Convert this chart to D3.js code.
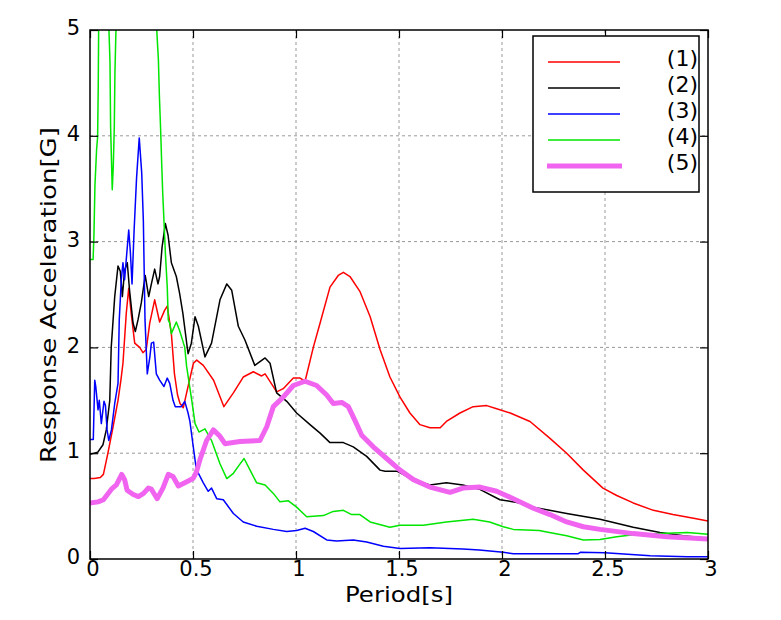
<!DOCTYPE html>
<html lang="en">
<head>
    <meta charset="UTF-8">
    <title>Response Spectra</title>
    <script src="https://cdnjs.cloudflare.com/ajax/libs/d3/7.8.5/d3.min.js"></script>
    <style>
        body { margin: 0; background: #fff; font-family: "DejaVu Sans", sans-serif; }
    </style>
</head>
<body>
    <div id="chart"></div>

    <script>
        // [period (s), response acceleration (G)]
        var s1 = [[0,0.76],[0.02,0.76],[0.05,0.77],[0.065,0.8],[0.087,1.0],[0.112,1.25],[0.136,1.5],[0.15,1.69],[0.16,1.85],[0.176,2.32],[0.188,2.56],[0.2,2.32],[0.217,2.04],[0.241,2.0],[0.257,1.95],[0.273,1.98],[0.29,2.23],[0.314,2.45],[0.338,2.24],[0.362,2.35],[0.375,2.39],[0.395,2.13],[0.41,1.75],[0.425,1.55],[0.437,1.47],[0.453,1.43],[0.469,1.57],[0.502,1.85],[0.518,1.88],[0.55,1.83],[0.6,1.69],[0.65,1.44],[0.696,1.57],[0.744,1.72],[0.793,1.77],[0.833,1.73],[0.85,1.75],[0.89,1.63],[0.906,1.58],[0.938,1.61],[0.987,1.71],[1.02,1.71],[1.044,1.68],[1.084,2.0],[1.117,2.23],[1.165,2.57],[1.205,2.68],[1.23,2.71],[1.262,2.67],[1.31,2.53],[1.36,2.29],[1.408,1.98],[1.456,1.72],[1.505,1.53],[1.553,1.38],[1.602,1.27],[1.65,1.24],[1.7,1.24],[1.73,1.3],[1.796,1.38],[1.86,1.44],[1.926,1.45],[1.974,1.42],[2.04,1.38],[2.136,1.3],[2.233,1.14],[2.314,1.0],[2.395,0.84],[2.49,0.67],[2.557,0.6],[2.637,0.53],[2.735,0.46],[2.83,0.42],[2.93,0.385],[3.0,0.36]];
        var s2 = [[0,0.99],[0.038,1.01],[0.063,1.08],[0.079,1.22],[0.096,1.5],[0.103,2.0],[0.12,2.48],[0.136,2.77],[0.147,2.72],[0.157,2.48],[0.168,2.73],[0.181,2.8],[0.192,2.54],[0.209,2.23],[0.22,2.15],[0.233,2.26],[0.249,2.42],[0.268,2.68],[0.285,2.48],[0.298,2.6],[0.314,2.74],[0.33,2.6],[0.338,2.67],[0.35,2.95],[0.366,3.17],[0.379,3.06],[0.395,2.8],[0.419,2.67],[0.435,2.51],[0.451,2.32],[0.476,1.94],[0.492,2.04],[0.51,2.29],[0.526,2.2],[0.558,1.91],[0.59,2.04],[0.631,2.45],[0.664,2.6],[0.688,2.54],[0.72,2.2],[0.752,2.07],[0.8,1.83],[0.85,1.9],[0.874,1.85],[0.906,1.57],[0.955,1.49],[1.003,1.38],[1.068,1.27],[1.117,1.19],[1.165,1.1],[1.23,1.1],[1.278,1.06],[1.343,0.97],[1.408,0.84],[1.432,0.83],[1.489,0.83],[1.57,0.75],[1.65,0.7],[1.73,0.72],[1.81,0.7],[1.89,0.66],[1.99,0.56],[2.087,0.53],[2.152,0.49],[2.314,0.43],[2.476,0.375],[2.637,0.3],[2.767,0.25],[2.88,0.22],[3.0,0.195]];
        var s3 = [[0,1.13],[0.016,1.13],[0.023,1.69],[0.028,1.63],[0.039,1.41],[0.045,1.5],[0.055,1.28],[0.068,1.49],[0.075,1.45],[0.083,1.22],[0.091,1.12],[0.104,1.22],[0.12,1.47],[0.136,1.66],[0.142,2.26],[0.152,2.64],[0.16,2.8],[0.168,2.64],[0.176,2.83],[0.188,3.11],[0.196,2.9],[0.204,2.6],[0.214,3.1],[0.226,3.6],[0.239,3.98],[0.251,3.65],[0.259,3.2],[0.267,2.26],[0.278,1.75],[0.29,1.9],[0.298,2.04],[0.309,2.05],[0.322,1.75],[0.338,1.69],[0.359,1.63],[0.375,1.71],[0.387,1.66],[0.403,1.5],[0.414,1.44],[0.443,1.44],[0.46,1.49],[0.476,1.38],[0.485,1.3],[0.5,1.08],[0.516,0.85],[0.55,0.72],[0.574,0.64],[0.59,0.67],[0.615,0.57],[0.647,0.56],[0.696,0.43],[0.744,0.35],[0.809,0.31],[0.89,0.28],[0.955,0.26],[1.003,0.27],[1.044,0.29],[1.084,0.26],[1.149,0.18],[1.197,0.17],[1.278,0.18],[1.343,0.16],[1.424,0.12],[1.505,0.1],[1.65,0.107],[1.81,0.095],[1.89,0.085],[2.006,0.063],[2.055,0.05],[2.37,0.05],[2.38,0.063],[2.5,0.06],[2.72,0.03],[2.9,0.022],[3.0,0.022]];
        var s4 = [[0,2.83],[0.015,2.83],[0.019,3.05],[0.024,3.53],[0.032,3.87],[0.037,3.99],[0.04,4.46],[0.043,5.3],[0.05,5.9],[0.07,6.3],[0.088,5.6],[0.092,5.0],[0.097,4.7],[0.1,4.09],[0.105,3.71],[0.108,3.49],[0.113,3.71],[0.118,4.09],[0.121,4.59],[0.126,5.0],[0.13,5.5],[0.16,6.8],[0.2,7.5],[0.25,7.2],[0.3,6.2],[0.32,5.2],[0.324,5.0],[0.332,4.72],[0.337,4.37],[0.343,4.05],[0.348,3.74],[0.353,3.46],[0.359,3.2],[0.366,2.89],[0.375,2.57],[0.38,2.26],[0.387,2.23],[0.395,2.13],[0.419,2.24],[0.435,2.16],[0.46,2.0],[0.469,1.82],[0.494,1.5],[0.51,1.28],[0.529,1.2],[0.558,1.23],[0.59,1.12],[0.631,0.9],[0.664,0.76],[0.696,0.81],[0.725,0.89],[0.748,0.95],[0.777,0.84],[0.809,0.72],[0.85,0.7],[0.89,0.62],[0.922,0.54],[0.963,0.55],[1.003,0.49],[1.052,0.4],[1.133,0.41],[1.181,0.45],[1.23,0.46],[1.27,0.42],[1.31,0.42],[1.36,0.35],[1.456,0.3],[1.505,0.32],[1.618,0.32],[1.73,0.35],[1.86,0.375],[1.94,0.35],[2.006,0.305],[2.055,0.28],[2.18,0.27],[2.23,0.25],[2.314,0.22],[2.395,0.18],[2.476,0.185],[2.557,0.21],[2.637,0.23],[2.767,0.24],[2.9,0.25],[3.0,0.235]];
        var s5 = [[0,0.53],[0.039,0.54],[0.065,0.56],[0.104,0.66],[0.128,0.7],[0.154,0.8],[0.168,0.75],[0.18,0.65],[0.21,0.61],[0.235,0.59],[0.26,0.62],[0.283,0.67],[0.298,0.66],[0.326,0.57],[0.354,0.67],[0.38,0.8],[0.403,0.78],[0.429,0.69],[0.46,0.72],[0.5,0.76],[0.516,0.82],[0.534,0.94],[0.566,1.12],[0.599,1.22],[0.631,1.16],[0.655,1.09],[0.728,1.11],[0.825,1.12],[0.858,1.25],[0.89,1.44],[0.938,1.53],[0.987,1.64],[1.044,1.68],[1.1,1.64],[1.149,1.55],[1.181,1.47],[1.222,1.48],[1.254,1.44],[1.286,1.31],[1.319,1.17],[1.375,1.06],[1.44,0.95],[1.505,0.84],[1.57,0.75],[1.65,0.68],[1.748,0.63],[1.81,0.67],[1.893,0.68],[1.974,0.64],[2.055,0.57],[2.152,0.48],[2.233,0.42],[2.314,0.35],[2.395,0.305],[2.476,0.28],[2.637,0.24],[2.8,0.21],[3.0,0.19]];

        var labels = ["(1)", "(2)", "(3)", "(4)", "(5)"];
        var colors = ["#ff0000", "#000000", "#0000ff", "#00e600", "#f064f0"];
        var widths = [1.5, 1.5, 1.5, 1.5, 5];
        var xTicks = [0, 0.5, 1, 1.5, 2, 2.5, 3];
        var yTicks = [0, 1, 2, 3, 4, 5];

        var series = [s1, s2, s3, s4, s5];

        var margin = {top: 30, right: 73, bottom: 61, left: 90},
            width = 781 - margin.left - margin.right,
            height = 620 - margin.top - margin.bottom;

        var svg = d3.select("#chart").append("svg")
            .attr("width", 781)
            .attr("height", 620);

        var g = svg.append("g")
            .attr("transform", "translate(" + margin.left + "," + margin.top + ")");

        var x = d3.scaleLinear().domain([0, 3]).range([0, width]);
        var y = d3.scaleLinear().domain([0, 5]).range([height, 0]);

        g.append("clipPath").attr("id", "clip")
            .append("rect").attr("width", width).attr("height", height);

        // dashed grid
        g.append("g").selectAll("line")
            .data(xTicks.slice(1, -1)).enter().append("line")
            .attr("x1", d => x(d)).attr("x2", d => x(d))
            .attr("y1", 0).attr("y2", height)
            .attr("stroke", "#999").attr("stroke-dasharray", "3,3");
        g.append("g").selectAll("line")
            .data(yTicks.slice(1, -1)).enter().append("line")
            .attr("x1", 0).attr("x2", width)
            .attr("y1", d => y(d)).attr("y2", d => y(d))
            .attr("stroke", "#999").attr("stroke-dasharray", "3,3");

        var line = d3.line()
            .x(d => x(d[0]))
            .y(d => y(d[1]));

        var curves = g.append("g").attr("clip-path", "url(#clip)");
        series.forEach(function(s, i) {
            curves.append("path")
                .datum(s)
                .attr("fill", "none")
                .attr("stroke", colors[i])
                .attr("stroke-width", widths[i])
                .attr("stroke-linejoin", "round")
                .attr("d", line);
        });

        // axes with inward ticks, mirrored on top/right
        function styleAxis(sel) {
            sel.select(".domain").remove();
            sel.selectAll(".tick line").attr("stroke", "#000").attr("stroke-width", 1.2);
            sel.selectAll("text").attr("font-family", "DejaVu Sans, sans-serif")
                .attr("font-size", 21).attr("fill", "#000");
        }

        g.append("g")
            .attr("transform", "translate(0," + height + ")")
            .call(d3.axisBottom(x).tickValues(xTicks).tickSize(-8).tickPadding(2).tickFormat(d3.format("")))
            .call(styleAxis)
            .selectAll("text").attr("dy", "0.71em").attr("dx", "0.12em");

        g.append("g")
            .call(d3.axisLeft(y).tickValues(yTicks).tickSize(-8).tickPadding(10).tickFormat(d3.format("d")))
            .call(styleAxis)
            .selectAll("text").attr("dy", "0.22em");

        g.append("g")
            .call(d3.axisTop(x).tickValues(xTicks).tickSize(-8).tickFormat(""))
            .call(styleAxis);

        g.append("g")
            .attr("transform", "translate(" + width + ",0)")
            .call(d3.axisRight(y).tickValues(yTicks).tickSize(-8).tickFormat(""))
            .call(styleAxis);

        g.append("rect")
            .attr("width", width).attr("height", height)
            .attr("fill", "none").attr("stroke", "#000").attr("stroke-width", 1.5);

        // axis titles
        svg.append("text")
            .attr("x", 399).attr("y", 602)
            .attr("text-anchor", "middle")
            .attr("font-size", 22)
            .attr("textLength", 108)
            .attr("lengthAdjust", "spacingAndGlyphs")
            .text("Period[s]");

        svg.append("text")
            .attr("transform", "translate(56,295) rotate(-90)")
            .attr("text-anchor", "middle")
            .attr("font-size", 22)
            .attr("textLength", 336)
            .attr("lengthAdjust", "spacingAndGlyphs")
            .text("Response Acceleration[G]");

        // legend
        var legend = svg.append("g").attr("transform", "translate(533,36)");
        legend.append("rect")
            .attr("width", 166).attr("height", 156)
            .attr("fill", "#fff").attr("stroke", "#000").attr("stroke-width", 1.5);

        var item = legend.selectAll(".legend")
            .data(labels).enter().append("g")
            .attr("class", "legend")
            .attr("transform", (d, i) => "translate(0," + (26 + i * 26) + ")");

        item.append("line")
            .attr("x1", (d, i) => i === 4 ? 14 : 15)
            .attr("x2", (d, i) => i === 4 ? 89 : 87)
            .attr("stroke", (d, i) => colors[i])
            .attr("stroke-width", (d, i) => widths[i]);

        item.append("text")
            .attr("x", 165).attr("y", -4)
            .attr("dy", "0.35em")
            .attr("text-anchor", "end")
            .attr("font-size", 22)
            .text(d => d);
    </script>
</body>
</html>
